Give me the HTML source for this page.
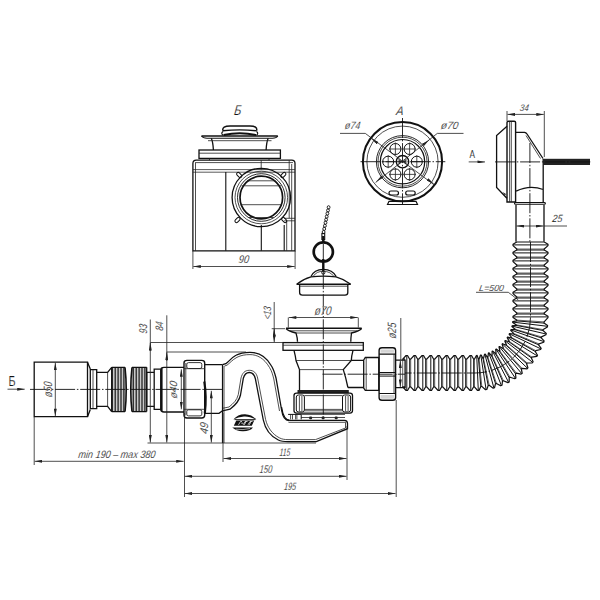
<!DOCTYPE html>
<html><head><meta charset="utf-8">
<style>
html,body{margin:0;padding:0;background:#fff;width:600px;height:600px;overflow:hidden}
svg{display:block}
.m{stroke:#111;stroke-width:1.3;fill:none}
.t{stroke:#222;stroke-width:0.8;fill:none}
.c{stroke:#111;stroke-width:0.9;fill:none;stroke-dasharray:20 1.8 1.5 1.8}
.k{fill:#222;stroke:none}
text{font-family:"Liberation Sans",sans-serif;fill:#111;stroke:#fff;stroke-width:0.6px}
.ti{font-style:italic}
.tn{font-style:normal}
</style></head><body>
<svg width="600" height="600" viewBox="0 0 600 600">
<defs>
<marker id="ar" viewBox="0 0 10 4" refX="10" refY="2" markerWidth="8" markerHeight="3" orient="auto-start-reverse" markerUnits="userSpaceOnUse"><path d="M0,0 L10,2 L0,4z" fill="#222"/></marker>
</defs>

<!-- ===== View B (side) ===== -->
<g id="viewB">
<!-- stopper knob -->
<path class="m" d="M222.8,130.5 Q222,126 230,125.9 H250 Q257.5,126 256.7,130.5" style="stroke-width:1.5px"/>
<path class="m" d="M222.8,130.8 Q239.7,129 256.7,130.8" style="stroke-width:1.4px"/>
<path class="m" d="M223,131.5 Q220.5,133.3 223,135.3 M256.5,131.5 Q259,133.3 256.5,135.3" style="stroke-width:1.1px"/>
<path class="m" d="M223.5,135 Q239.7,131.5 256,135" style="stroke-width:1.8px"/>
<!-- flange -->
<path class="m" d="M201.5,135.9 H277.8" style="stroke-width:1.5px"/>
<path class="m" d="M201.5,136 Q203,138.2 207,138.2 H272.5 Q276.5,138.2 277.8,136" style="stroke-width:1.1px"/>
<path class="m" d="M211.3,138.2 Q213,142 213.4,150 M268.2,138.2 Q266.5,142 266.1,150"/>
<path class="t" d="M208,140.7 H271.5"/>
<!-- plate -->
<rect class="m" x="199" y="150" width="81.4" height="8.4" style="stroke-width:1.3px"/>
<path class="t" d="M199,153.2 H280.4 M209.5,158.4 V160.2 M269,158.4 V160.2"/>
<!-- body -->
<path class="m" d="M192.9,250.8 V163.5 Q192.9,160.2 196.2,160.2 H291.8 Q295,160.2 295,163.5 V250.8 Z" style="stroke-width:1.3px"/>
<path class="t" d="M195.5,163 V250.8 M261.2,160.2 V169.7 M289.2,160.2 V218.3 M291.7,164 V250.8"/>
<path class="t" d="M192.9,169.6 H295 M192.9,172.2 H295" style="stroke-width:0.75px"/>
<path class="t" d="M195,162.6 H293"/>
<path class="m" d="M225.8,172 V250.8 M261.3,225 V250.8 M284.2,225 V250.8" style="stroke-width:1.1px"/>
<path class="t" d="M286.7,221 V250.8 M284.2,218.3 H295 M284.2,220.8 H295"/>
<!-- port -->
<circle class="m" cx="261.3" cy="197.5" r="29.2" style="stroke-width:1.3px"/>
<circle class="t" cx="261.3" cy="197.5" r="26.3"/>
<circle class="m" cx="261.3" cy="197.5" r="23.8" style="stroke-width:0.9px"/>
<circle class="m" cx="261.3" cy="197.5" r="21.3" style="stroke-width:1.7px"/>
<path class="t" d="M247,180.8 H275.6 M241.5,185.8 H281 M240.5,204.7 H282 M249,217.5 H273.6"/>
<g class="m" style="stroke-width:1px">
<rect x="236.2" y="173.4" width="6" height="3.2" rx="1.6" transform="rotate(45 239.2 175)"/>
<rect x="280.3" y="173.4" width="6" height="3.2" rx="1.6" transform="rotate(-45 283.3 175)"/>
<rect x="234.5" y="218.4" width="6" height="3.2" rx="1.6" transform="rotate(-45 237.5 220)"/>
<rect x="281.2" y="218.4" width="6" height="3.2" rx="1.6" transform="rotate(45 284.2 220)"/>
</g>
<!-- dim 90 -->
<path class="t" d="M192.9,251 V269 M295.1,251 V269"/>
<path class="t" d="M193.3,266.5 H294.7" marker-start="url(#ar)" marker-end="url(#ar)"/>
</g>

<!-- ===== View A (front) ===== -->
<g id="viewA">
<circle class="m" cx="402.5" cy="161.7" r="39.6" style="stroke-width:2px"/>
<circle class="t" cx="402.5" cy="161.7" r="35.6"/>
<circle class="m" cx="402.5" cy="161.7" r="26.1" style="stroke-width:0.9px"/>
<circle class="t" cx="402.5" cy="161.7" r="24.5"/>
<circle class="m" cx="402.5" cy="161.7" r="22.2" style="stroke-width:1.2px"/>
<g class="m" style="stroke-width:1.0px">
<circle cx="395.4" cy="149" r="5.5"/><circle cx="409.6" cy="149" r="5.5"/>
<circle cx="388.2" cy="161.7" r="5.5"/><circle cx="416.8" cy="161.7" r="5.5"/>
<circle cx="395.4" cy="174.4" r="5.5"/><circle cx="409.6" cy="174.4" r="5.5"/>
<circle cx="402.5" cy="161.7" r="6.2" style="stroke-width:1.4px"/>
</g>
<path class="t" d="M395.4,142.5V155.5M389,149H401.8M409.6,142.5V155.5M403.2,149H416M388.2,155.2V168.2M381.7,161.7H394.7M416.8,155.2V168.2M410.3,161.7H423.3M395.4,167.9V180.9M389,174.4H401.8M409.6,167.9V180.9M403.2,174.4H416"/>
<path class="k" d="M398.5,158.5 L406.5,164.9 L406.5,158.5 L398.5,164.9Z" opacity="0.8"/>
<path class="c" d="M402.5,118 V205 M360.5,161.7 H445.3"/>
<path class="t" d="M340,133.4 H365.3 L435,185.5"/>
<path class="t" d="M372.6,139.5 L371.5,138.7" marker-end="url(#ar)"/>
<path class="t" d="M432.5,183 L433.6,183.8" marker-end="url(#ar)"/>
<path class="t" d="M463.5,133.4 H437.3 L375.6,182.5"/>
<path class="t" d="M427.8,141.1 L428.8,140.3" marker-end="url(#ar)"/>
<path class="t" d="M377.6,180.5 L376.6,181.3" marker-end="url(#ar)"/>
<rect class="m" x="389" y="191" width="9.5" height="4" rx="2" style="stroke-width:1.2px"/>
<rect class="m" x="405.7" y="191" width="9.5" height="4" rx="2" style="stroke-width:1.2px"/>
<path class="m" d="M387.5,204.5 L389,201.3 H416 L417.5,204.5 Z" style="stroke-width:1.2px"/>
</g>

<!-- ===== Overflow side ===== -->
<g id="overflow">
<path class="t" d="M507,111 V121 M544.3,111 V157"/>
<path class="t" d="M507.5,114.4 H543.8" marker-start="url(#ar)" marker-end="url(#ar)"/>
<path class="m" d="M507,122.5 Q507,121.2 508.5,121.2 H514.2 Q515.6,121.2 515.6,122.5 V202 H507 Z" style="stroke-width:1.4px"/>
<path class="t" d="M509.6,121.5 V202 M511.3,121.5 V202"/>
<path class="m" d="M507,126.3 L496.6,135.5 V187.4 L506.9,198.2" style="stroke-width:1.3px"/>
<path class="k" d="M502.5,192 L505,195.5 L506,194 Z"/>
<path class="m" d="M515.6,132.3 H524.5 Q526,132.5 527,134 L543,158.5" style="stroke-width:1.3px"/>
<path class="t" d="M526,135.5 L540.5,158.5"/>
<path class="m" d="M543.2,165 V202.5 M516.1,191.2 Q529.7,184.5 543.2,189.5" style="stroke-width:1.3px"/>
<path class="m" d="M515.5,202.5 H544.2 Q545.4,202.5 545.4,203.4 Q545.4,204.3 544.2,204.3 H515.5 Q514.5,204.3 514.5,203.4 Q514.5,202.5 515.5,202.5 Z" style="stroke-width:1.1px"/>
<rect x="542.5" y="158.8" width="47.5" height="6.2" fill="#222"/>
<path class="t" d="M468.7,161.9 H485" marker-end="url(#ar)"/>
<path class="c" d="M495,161.9 H592 M529.9,143 V241.7"/>
</g>

<!-- ===== Vertical pipe + 25 ===== -->
<g id="vpipe">
<path class="m" d="M516,205 V241.7 M544,205 V241.7"/>
<path class="t" d="M516.5,226 H543.5" marker-start="url(#ar)" marker-end="url(#ar)"/>
<path class="t" d="M544,226 H567"/>
</g>


<!-- ===== Chain stopper ===== -->
<g id="stopper">
<g class="m" style="stroke-width:0.9px"><ellipse cx="328.6" cy="207.3" rx="1.4" ry="1.6"/><ellipse cx="328.0" cy="210.4" rx="1.4" ry="1.6"/><ellipse cx="327.4" cy="213.5" rx="1.4" ry="1.6"/><ellipse cx="326.7" cy="216.6" rx="1.4" ry="1.6"/><ellipse cx="326.1" cy="219.7" rx="1.4" ry="1.6"/><ellipse cx="325.5" cy="222.7" rx="1.4" ry="1.6"/><ellipse cx="324.9" cy="225.8" rx="1.4" ry="1.6"/><ellipse cx="324.2" cy="228.9" rx="1.4" ry="1.6"/><ellipse cx="323.6" cy="232.0" rx="1.4" ry="1.6"/></g>
<rect class="m" x="321.9" y="233.5" width="2.8" height="6" style="stroke-width:1.1px"/>
<path class="m" d="M323.3,239.5 V243" style="stroke-width:1.6px"/>
<circle class="m" cx="323.3" cy="251.9" r="9.6" style="stroke-width:2.7px"/>
<path class="m" d="M323.3,236 V243 M323.3,259 V271" style="stroke-width:2.4px"/>
<circle class="m" cx="323.3" cy="272.6" r="1.6" style="stroke-width:1px"/>
<path class="m" d="M311,276.6 Q314,269.3 323.3,269.3 Q332.5,269.3 336.2,276.6" style="stroke-width:1.3px"/>
<path class="t" d="M313.5,276 Q316.5,271.3 323.3,271.3 Q330,271.3 333.5,276"/>
<path class="m" d="M297,284 Q303,279 311,276.8 Q323.3,275.5 336,276.8 Q344,279 350.4,284" style="stroke-width:1.2px"/>
<path class="m" d="M296.5,284.3 H350.8" style="stroke-width:1.6px"/>
<path class="m" d="M299.6,284.3 V292.5 Q299.6,295.1 302.5,295.1 H345 Q347.8,295.1 347.8,292.5 V284.3" style="stroke-width:1.3px"/>
<path class="t" d="M299.6,286.2 H347.8"/>
</g>

<!-- ===== Drain ===== -->
<g id="drain">
<path class="c" d="M323.3,244 V418"/>
<!-- phi70 dim -->
<path class="t" d="M288.3,317.5 V327.5 M358.3,317.5 V327.5"/>
<path class="t" d="M288.8,317.5 H357.8" marker-start="url(#ar)" marker-end="url(#ar)"/>
<!-- cap -->
<path class="m" d="M286,328.3 H361.7" style="stroke-width:1.6px"/>
<path class="m" d="M286,328.5 Q288,331 296,333 Q297.5,338 297.5,341.8 M361.7,328.5 Q359.5,331 351.5,333 Q350.8,338 350.8,341.8"/>
<path class="t" d="M290,330.8 H357.5 M296,333 H351.5"/>
<!-- flange -->
<rect class="m" x="283" y="342.6" width="80.3" height="7.7"/>
<path class="t" d="M283,345.2 H363.3"/>
<!-- body -->
<path class="m" d="M294,350.3 Q295.5,356 296,360.5 L299.5,369.5 V390.5 M353,350.3 Q351.5,356 351.3,360.4 L343.3,369.6 Q346,378 347.9,387.5"/>
<path class="t" d="M296,360.5 H351.3 M299.5,369.6 H343.3"/>
<!-- side pipe -->
<path class="m" d="M351.3,360.4 H363.7 M347.9,387.5 H363.7"/>
<path class="m" d="M363.7,360 L365.3,357.5 H378.8 V390.4 H365.3 L363.7,388 Z"/>
<path class="t" d="M366.2,357.5 V390.4"/>
<path class="c" d="M322.5,374.2 H405"/>
<!-- nut right -->
<path class="m" d="M379.1,350.5 Q379.1,347.8 382,347.8 H392.8 Q395.6,347.8 395.6,350.5 V397.5 Q395.6,400.3 392.8,400.3 H382 Q379.1,400.3 379.1,397.5 Z" style="stroke-width:1.4px"/>
<path class="m" d="M379.1,354.1 H395.6 M379.1,393.5 H395.6" style="stroke-width:1.1px"/>
<rect x="380.5" y="349.5" width="13.5" height="3.2" fill="#d4d4d4"/>
<rect x="380.5" y="395" width="13.5" height="3.8" fill="#d4d4d4"/>
<path class="t" d="M394,354.1 V393.5"/>
<path class="m" d="M379.1,372.5 H395 L396,374.3 L395,376.1 H379.1" style="stroke-width:1px"/>
<path class="m" d="M395.6,360.1 H405.1 V387.7 H395.6"/>
<!-- phi25 -->
<path class="t" d="M400.8,318 V360"/>
<path class="t" d="M400.3,360.5 V387" marker-start="url(#ar)" marker-end="url(#ar)"/>
<!-- black band and lower nut -->
<rect class="k" x="297.5" y="390" width="51.3" height="3.1"/>
<path class="m" d="M294,395.6 Q294,393.1 296.5,393.1 H350 Q352.5,393.1 352.5,395.6 V410.6 Q352.5,413.1 350,413.1 H296.5 Q294,413.1 294,410.6 Z" style="stroke-width:1.3px"/>
<path class="m" d="M298.5,395 H302.3 Q304.4,395 304.4,397 V410 Q304.4,411.9 302.3,411.9 H298.5 Q296.3,411.9 296.3,410 V397 Q296.3,395 298.5,395 Z M344.6,395 H348.4 Q350.6,395 350.6,397 V410 Q350.6,411.9 348.4,411.9 H344.6 Q342.5,411.9 342.5,410 V397 Q342.5,395 344.6,395 Z" style="stroke-width:1px"/>
<path class="t" d="M299.4,396 V411 M301.9,396 V411 M345.6,396 V411 M348.1,396 V411 M304.4,395.6 H342.5 M304.4,409.4 H342.5 M304.4,410.8 H342.5"/>
<!-- strip below nut -->
<path class="t" d="M301.2,414.4 H345 M301.2,417.5 H345 M290.6,414.4 V419.4 M292.5,414.4 V419.4 M295.6,414.4 V419.4 M296.9,414.4 V419.4"/>
<path class="m" d="M288.1,414.4 H301.2 V419.4" style="stroke-width:1px"/>
<rect class="k" x="309.1" y="416.6" width="3" height="2.7" rx="1"/>
<rect class="k" x="321.6" y="416.6" width="3" height="2.7" rx="1"/>
<rect class="k" x="334.7" y="416.6" width="3" height="2.7" rx="1"/>
<!-- trap bottom -->
<path class="m" d="M281.5,407 Q283.5,420.3 290,420.3 H344.5 Q347.5,420.3 347.5,423.5 V428.7 L316.3,441.6 H288"/>
<path class="t" d="M288.5,422.3 H345.5 L345.5,428 L315.5,439.6 H288"/>
</g>

<!-- ===== S-trap ===== -->
<g id="strap">
<path class="m" d="M222.5,364.7 L225.8,363.7 C229,361.5 231,358 236,355.3 C240,353 245,352.3 250,352.3 C258,352.3 266,356 271.5,366 C274,370 275,374 276,378 L281.7,410.5 C282.5,416 284,420.5 289,420.5"/>
<path class="t" d="M224.5,366 L227,365.2 C230,363 232,360 237,357.3 C241,355.3 245,354.6 250,354.6 C257,354.6 264,358 269.5,367.5 C271.8,371 272.8,375 273.8,379 L279.5,411"/>
<path class="m" d="M222.5,410.8 L230,409.2 C235,405.5 239,402 240.5,395 L243.3,378.3 C244.5,374.3 246,372.5 249.3,372.5 C252.5,372.5 254.3,374.5 255.3,378.5 L263.3,420 C265,428 270,436 278.3,440 C281,441.3 284,441.6 288,441.6"/>
<path class="t" d="M222.5,408.3 L229,407 C233.3,403.5 237,400.3 238.3,394.5 L241,378 C242.3,373 244.8,370.3 249.3,370.3 C253.8,370.3 256.5,373 257.6,378 L265.6,419.5 C267.3,427 272,434 279.3,437.8 C282,439.2 284.5,439.6 288,439.6"/>
<path class="m" d="M222.5,364.7 V443" style="stroke-width:1.2px"/>
<path class="t" d="M224,366 V443"/>
<path class="m" d="M204.7,364.7 H222.5 M204.7,413.3 H219 L222.5,410.8"/>
<path class="t" d="M166.7,352 H246 M150.3,342.5 H283"/>
<!-- logo -->
<path d="M233.3,419.5 Q238,414 245,414.2 Q252,414.4 256.3,419.6 Q249,416.2 244,416.6 Q238,417 233.3,419.5 Z" fill="#111"/>
<path d="M234.5,419.6 H255.5" stroke="#111" style="stroke-width:0.9px"/>
<path d="M236.3,420.6 H254.2 L251.8,425.8 H233.8 Z" fill="#111"/>
<path d="M232.3,427.5 H253 Q250,431.5 242.5,431.3 Q236,431 232.3,427.5 Z" fill="#111"/>
<path d="M236,429.2 Q243,430.3 250,428.5" stroke="#fff" style="stroke-width:0.6px" fill="none"/>
<path d="M238.5,424.8 L240.5,421.5 H242 M241.3,423.2 H243 M243.2,424.8 L245,421.5 H247.5 M246,421.5 L244.3,424.8 M248,424.8 L250,421.5 H252.5 M251,421.5 L249.3,424.8" stroke="#fff" style="stroke-width:0.75px" fill="none"/>
</g>

<!-- ===== Left assembly ===== -->
<g id="left">
<!-- nut left -->
<path class="m" d="M184,363 Q184,360.4 187,360.4 H201.7 Q204.7,360.4 204.7,363 V415 Q204.7,418 201.7,418 H187 Q184,418 184,415 Z" style="stroke-width:1.4px"/>
<path class="t" d="M185.8,363 V415.5 M184,368.7 H204.7 M184,409.3 H204.7"/>
<path class="t" d="M188.5,362.6 H200 Q201.8,362.6 201.8,364.4 V367 Q201.8,368.5 200,368.5 H188.5 Q186.8,368.5 186.8,367 V364.4 Q186.8,362.6 188.5,362.6 Z M188.5,409.8 H200 Q201.8,409.8 201.8,411.5 V414.2 Q201.8,415.9 200,415.9 H188.5 Q186.8,415.9 186.8,414.2 V411.5 Q186.8,409.8 188.5,409.8 Z" style="stroke-width:0.9px"/>
<path class="m" d="M204.3,381.5 Q206.8,397 204.8,413.5" style="stroke-width:2.2px"/>
<!-- body -->
<path class="m" d="M184,367.3 H164 Q160.7,367.3 160.7,370 V409.3 Q160.7,412 164,412 H184"/>
<path class="m" d="M161.8,368 V411" style="stroke-width:1.6px"/>
<!-- collar -->
<path class="m" d="M160.7,369.2 H154.2 V409.3 H160.7"/>
<path class="m" d="M154.2,372.3 H146.7 V406.3 H154.2"/>
<!-- corrugated threads -->
<path d="M111.7,367.3 H125 Q127,389.4 125,411.6 H111.7 Z M132,367.3 H146.7 V411.6 H132 Q130,389.4 132,367.3 Z" fill="#c8c8c8"/>
<path class="m" d="M111.7,367.3 H125 M111.7,411.6 H125 M132,367.3 H146.7 M132,411.6 H146.7" style="stroke-width:1.2px"/>
<path class="m" d="M125,367.3 Q127.5,389.4 125,411.6 M132,367.3 Q129.5,389.4 132,411.6" style="stroke-width:1.6px"/>
<path class="m" style="stroke-width:1.15px" d="M112.25,367.8V411.2M115.20,367.8V411.2M118.10,367.8V411.2M121.00,367.8V411.2M123.90,367.8V411.2M133.25,367.8V411.2M136.20,367.8V411.2M139.10,367.8V411.2M142.00,367.8V411.2M144.90,367.8V411.2"/>
<path class="m" d="M111.7,367.3 V411.6 M146.7,367.3 V411.6" style="stroke-width:1.3px"/>
<!-- neck -->
<path class="m" d="M111.7,367.3 L107.6,372.3 H96.7 M111.7,411.6 L107.6,406.3 H96.7"/>
<path class="t" d="M107.6,372.3 V406.3"/>
<path class="m" d="M96.7,369.7 H90.3 V408.7 H96.7 Z"/>
<path class="t" d="M93,369.7 V408.7"/>
<path class="m" d="M90.3,369 L87.5,362.2 M90.3,409.5 L87.5,416.7"/>
<!-- big connector -->
<path class="m" d="M34.2,362.2 H87.5 V416.7 H34.2 Z"/>
<path class="t" d="M55.3,362.7 V416.2" marker-start="url(#ar)" marker-end="url(#ar)"/>
<path class="c" d="M30,389.4 H222.5"/>
<path class="t" d="M7.5,389.2 H24.7" marker-end="url(#ar)"/>
</g>

<!-- ===== Dimensions (main) ===== -->
<g id="dims">
<path class="t" d="M34.2,417 V465 M184.5,413 V497 M223,413 V462 M347,426 V480 M396.2,400 V497 M147.5,443 H316"/>
<path class="t" d="M34.7,461.3 H183.7" marker-start="url(#ar)" marker-end="url(#ar)"/>
<path class="t" d="M223.5,458.5 H346.5" marker-start="url(#ar)" marker-end="url(#ar)"/>
<path class="t" d="M184.7,476.3 H346.5" marker-start="url(#ar)" marker-end="url(#ar)"/>
<path class="t" d="M184.7,493.5 H395.5" marker-start="url(#ar)" marker-end="url(#ar)"/>
<path class="t" d="M150.3,319.5 V442.5" marker-end="url(#ar)"/>
<path class="t" d="M150.3,351 V342.9" marker-end="url(#ar)"/>
<path class="t" d="M166.8,315.3 V442.5" marker-end="url(#ar)"/>
<path class="t" d="M166.8,361 V352.4" marker-end="url(#ar)"/>
<path class="t" d="M211.3,390.8 V442.5" marker-start="url(#ar)" marker-end="url(#ar)"/>
<path class="t" d="M181.3,369.3 V409.3" marker-start="url(#ar)" marker-end="url(#ar)"/>
<path class="t" d="M271.7,328.7 H285"/>
<path class="t" d="M274.2,302 V342.2" marker-end="url(#ar)"/>
<path class="t" d="M274.2,336 V328.9" marker-end="url(#ar)"/>
<path class="t" d="M476,292.3 H508.3 L518.3,300"/>
</g>
<text class="ti" transform="translate(233.72,114.90) scale(0.2750,0.3536) skewX(-9)" font-size="40">Б</text>
<text class="ti" transform="translate(395.86,115.20) scale(0.2778,0.3107) skewX(-9)" font-size="40">A</text>
<text class="ti" transform="translate(344.58,129.04) scale(0.2225,0.2621) skewX(-9)" font-size="40">ø74</text>
<text class="ti" transform="translate(440.55,129.04) scale(0.2521,0.2621) skewX(-9)" font-size="40">ø70</text>
<text class="ti" transform="translate(519.60,110.60) scale(0.2000,0.2357) skewX(-9)" font-size="40">34</text>
<text class="tn" transform="translate(469.60,158.00) scale(0.2077,0.2500)" font-size="40">A</text>
<text class="ti" transform="translate(552.00,222.40) scale(0.2245,0.2643) skewX(-9)" font-size="40">25</text>
<text class="ti" transform="translate(478.78,291.00) scale(0.2193,0.2143) skewX(-9)" font-size="40">L=500</text>
<text class="ti" transform="translate(238.33,263.20) scale(0.2333,0.2750) skewX(-9)" font-size="40">90</text>
<text class="ti" transform="translate(270.80,319.50) rotate(-90) scale(0.1866,0.2679) skewX(-9)" font-size="40">&lt;13</text>
<text class="ti" transform="translate(314.15,314.79) scale(0.2451,0.3138) skewX(-9)" font-size="40">ø70</text>
<text class="ti" transform="translate(396.45,338.73) rotate(-90) scale(0.2292,0.3017) skewX(-9)" font-size="40">ø25</text>
<text class="ti" transform="translate(147.00,333.72) rotate(-90) scale(0.2087,0.2857) skewX(-9)" font-size="40">93</text>
<text class="ti" transform="translate(163.30,331.12) rotate(-90) scale(0.2089,0.2714) skewX(-9)" font-size="40">84</text>
<text class="ti" transform="translate(51.70,397.53) rotate(-90) scale(0.2254,0.3000) skewX(-9)" font-size="40">ø50</text>
<text class="ti" transform="translate(177.24,398.85) rotate(-90) scale(0.2549,0.2621) skewX(-9)" font-size="40">ø40</text>
<text class="ti" transform="translate(207.80,434.32) rotate(-90) scale(0.2578,0.2857) skewX(-9)" font-size="40">49</text>
<text class="ti" transform="translate(78.07,458.00) scale(0.2266,0.2655) skewX(-9)" font-size="40">min 190 – max 380</text>
<text class="ti" transform="translate(279.34,455.50) scale(0.1642,0.2750) skewX(-9)" font-size="40">115</text>
<text class="ti" transform="translate(259.31,472.80) scale(0.1884,0.2786) skewX(-9)" font-size="40">150</text>
<text class="ti" transform="translate(283.82,490.00) scale(0.1786,0.2679) skewX(-9)" font-size="40">195</text>
<text class="tn" transform="translate(8.49,386.00) scale(0.2714,0.3464)" font-size="40">Б</text>

<g id="corr">
<path class="m" style="stroke-width:1.2px" stroke-linejoin="round" d="M516.8,242 L513,244.2 L513,245.6 L516.8,249 L516.8,250 L513,252.2 L513,253.6 L516.8,257 L516.8,258 L513,260.2 L513,261.6 L516.8,265 L516.8,266 L513,268.2 L513,269.6 L516.8,273 L516.8,274 L513,276.2 L513,277.6 L516.8,281 L516.8,282 L513,284.2 L513,285.6 L516.8,289 L516.8,290 L513,292.2 L513,293.6 L516.8,297 L516.8,298 L513,300.2 L513,301.6 L516.8,305 L516.8,306 L513,308.2 L513,309.6 L516.8,313 L516.8,314 L513,316.2 L513,317.6 L516.7,320.1 L516.6,320.9 L512.8,321.7 L512.7,322.4 L516.1,324.8 L516,325.4 L512.1,325.8 L511.9,326.5 L515.1,329.2 L514.9,329.7 L511,329.7 L510.7,330.4 L513.6,333.4 L513.4,334 L509.5,333.5 L509.1,334.2 L511.6,337.5 L511.4,338 L507.5,337.1 L507.2,337.8 L509.3,341.4 L508.9,341.8 L505.2,340.5 L504.8,341.1 L506.5,344.9 L506.1,345.3 L502.6,343.7 L502.1,344.2 L503.4,348.1 L502.9,348.5 L499.6,346.5 L499,346.9 L499.9,351 L499.4,351.4 L496.3,349 L495.7,349.4 L496.1,353.5 L495.6,353.8 L492.8,351.1 L492.1,351.4 L492.1,355.6 L491.6,355.8 L489.1,352.8 L488.4,353.1 L487.9,357.2 L487.4,357.4 L485.2,354.1 L484.5,354.3 L483.5,358.4 L483,358.5 L481.2,355 L480.4,355.1 L479.1,359.1 L478.5,359.1 L477.1,355.4 L476.4,355.5 L474.4,359.2 L473.7,359.2 L471.5,355.5 L470.1,355.5 L466.7,359.2 L465.7,359.2 L463.5,355.5 L462.1,355.5 L458.7,359.2 L457.7,359.2 L455.5,355.5 L454.1,355.5 L450.7,359.2 L449.7,359.2 L447.5,355.5 L446.1,355.5 L442.7,359.2 L441.7,359.2 L439.5,355.5 L438.1,355.5 L434.7,359.2 L433.7,359.2 L431.5,355.5 L430.1,355.5 L426.7,359.2 L425.7,359.2 L423.5,355.5 L422.1,355.5 L418.7,359.2 L417.7,359.2 L415.5,355.5 L414.1,355.5 L410.7,359.2 L409.7,359.2 L407.5,355.5 L406.1,355.5 L402.7,359.2 L405,359.2"/>
<path class="m" style="stroke-width:1.2px" stroke-linejoin="round" d="M544.2,242 L548,244.2 L548,245.6 L544.2,249 L544.2,250 L548,252.2 L548,253.6 L544.2,257 L544.2,258 L548,260.2 L548,261.6 L544.2,265 L544.2,266 L548,268.2 L548,269.6 L544.2,273 L544.2,274 L548,276.2 L548,277.6 L544.2,281 L544.2,282 L548,284.2 L548,285.6 L544.2,289 L544.2,290 L548,292.2 L548,293.6 L544.2,297 L544.2,298 L548,300.2 L548,301.6 L544.2,305 L544.2,306 L548,308.2 L548,309.6 L544.2,313 L544.2,314 L548,316.2 L548,317.6 L544.1,321.9 L544,323.1 L547.6,325.6 L547.4,326.9 L543.2,329.6 L543,330.5 L546.3,333.4 L545.9,334.7 L541.5,336.9 L541.2,337.8 L544.1,340.9 L543.7,342.3 L539,343.9 L538.6,344.8 L541.2,348.3 L540.6,349.5 L535.8,350.7 L535.3,351.5 L537.5,355.2 L536.8,356.4 L531.8,357.1 L531.3,357.8 L533.1,361.8 L532.2,362.8 L527.2,363 L526.6,363.7 L527.9,367.8 L527,368.8 L522,368.3 L521.3,369 L522.2,373.2 L521.1,374.1 L516.3,373.1 L515.5,373.7 L515.9,377.9 L514.8,378.7 L510,377.2 L509.2,377.7 L509.2,382 L507.9,382.6 L503.4,380.7 L502.5,381 L502,385.3 L500.7,385.8 L496.4,383.4 L495.5,383.6 L494.5,387.8 L493.2,388.2 L489.2,385.3 L488.2,385.5 L486.8,389.5 L485.5,389.7 L481.8,386.4 L480.8,386.5 L479,390.4 L477.6,390.5 L474.4,386.8 L473.7,386.8 L471.5,390.5 L470.1,390.5 L466.7,386.8 L465.7,386.8 L463.5,390.5 L462.1,390.5 L458.7,386.8 L457.7,386.8 L455.5,390.5 L454.1,390.5 L450.7,386.8 L449.7,386.8 L447.5,390.5 L446.1,390.5 L442.7,386.8 L441.7,386.8 L439.5,390.5 L438.1,390.5 L434.7,386.8 L433.7,386.8 L431.5,390.5 L430.1,390.5 L426.7,386.8 L425.7,386.8 L423.5,390.5 L422.1,390.5 L418.7,386.8 L417.7,386.8 L415.5,390.5 L414.1,390.5 L410.7,386.8 L409.7,386.8 L407.5,390.5 L406.1,390.5 L402.7,386.8 L405,386.8"/>
<path class="t" style="stroke-width:0.7px" d="M516.8,249L544.2,249M516.8,257L544.2,257M516.8,265L544.2,265M516.8,273L544.2,273M516.8,281L544.2,281M516.8,289L544.2,289M516.8,297L544.2,297M516.8,305L544.2,305M516.8,313L544.2,313M516.7,320.1L544.1,321.9M516.1,324.8L543.2,329.6M515.1,329.2L541.5,336.9M513.6,333.4L539,343.9M511.6,337.5L535.8,350.7M509.3,341.4L531.8,357.1M506.5,344.9L527.2,363M503.4,348.1L522,368.3M499.9,351L516.3,373.1M496.1,353.5L510,377.2M492.1,355.6L503.4,380.7M487.9,357.2L496.4,383.4M483.5,358.4L489.2,385.3M479.1,359.1L481.8,386.4M474.4,359.2L474.4,386.8M466.7,359.2L466.7,386.8M458.7,359.2L458.7,386.8M450.7,359.2L450.7,386.8M442.7,359.2L442.7,386.8M434.7,359.2L434.7,386.8M426.7,359.2L426.7,386.8M418.7,359.2L418.7,386.8M410.7,359.2L410.7,386.8M402.7,359.2L402.7,386.8"/>
<path class="m" style="stroke-width:1.0px" d="M516.8,242L544.2,242M513,244.9L548,244.9M516.8,250L544.2,250M513,252.9L548,252.9M516.8,258L544.2,258M513,260.9L548,260.9M516.8,266L544.2,266M513,268.9L548,268.9M516.8,274L544.2,274M513,276.9L548,276.9M516.8,282L544.2,282M513,284.9L548,284.9M516.8,290L544.2,290M513,292.9L548,292.9M516.8,298L544.2,298M513,300.9L548,300.9M516.8,306L544.2,306M513,308.9L548,308.9M516.8,314L544.2,314M513,316.9L548,316.9M516.6,320.9L544,323.1M512.7,322.1L547.5,326.3M516,325.4L543,330.5M512,326.1L546.1,334M514.9,329.7L541.2,337.8M510.9,330L543.9,341.6M513.4,334L538.6,344.8M509.3,333.8L540.9,348.9M511.4,338L535.3,351.5M507.3,337.4L537.1,355.8M508.9,341.8L531.3,357.8M505,340.8L532.6,362.3M506.1,345.3L526.6,363.7M502.3,343.9L527.5,368.3M502.9,348.5L521.3,369M499.3,346.7L521.7,373.6M499.4,351.4L515.5,373.7M496,349.2L515.4,378.3M495.6,353.8L509.2,377.7M492.5,351.2L508.6,382.3M491.6,355.8L502.5,381M488.7,352.9L501.4,385.6M487.4,357.4L495.5,383.6M484.8,354.2L493.9,388M483,358.5L488.2,385.5M480.8,355.1L486.1,389.6M478.5,359.1L480.8,386.5M476.7,355.5L478.3,390.4M473.7,359.2L473.7,386.8M470.8,355.5L470.8,390.5M465.7,359.2L465.7,386.8M462.8,355.5L462.8,390.5M457.7,359.2L457.7,386.8M454.8,355.5L454.8,390.5M449.7,359.2L449.7,386.8M446.8,355.5L446.8,390.5M441.7,359.2L441.7,386.8M438.8,355.5L438.8,390.5M433.7,359.2L433.7,386.8M430.8,355.5L430.8,390.5M425.7,359.2L425.7,386.8M422.8,355.5L422.8,390.5M417.7,359.2L417.7,386.8M414.8,355.5L414.8,390.5M409.7,359.2L409.7,386.8M406.8,355.5L406.8,390.5"/>
<path class="c" d="M530.5,242 L530.5,317.5 A55.5,55.5 0 0 1 475,373 L405,373"/>
</g>
</svg>
</body></html>
